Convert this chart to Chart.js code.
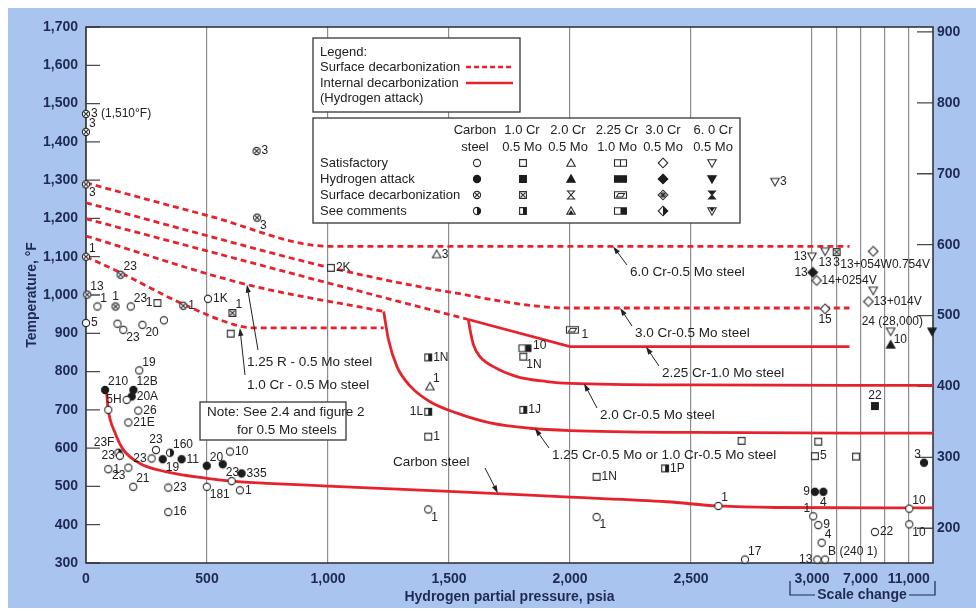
<!DOCTYPE html>
<html>
<head>
<meta charset="utf-8">
<script src="https://cdn.jsdelivr.net/npm/chart.js@4.4.1/dist/chart.umd.min.js"></script>
<style>
  html, body { margin: 0; padding: 0; background: #fff; }
  canvas { display: block; }
</style>
</head>
<body>
<canvas id="nelson" width="976" height="611"></canvas>
<script>
// hydrogen partial pressure (psia) and temperature (degF)

// axis ticks
const xTickPsia = [0, 500, 1000, 1500, 2000, 2500, 3000, 5000, 7000, 9000, 11000];
const xTickLabels = ['0', '500', '1,000', '1,500', '2,000', '2,500', '3,000', '', '7,000', '', '11,000'];
const yTicksF = [300, 400, 500, 600, 700, 800, 900, 1000, 1100, 1200, 1300, 1400, 1500, 1600, 1700];
const yTicksC = [200, 300, 400, 500, 600, 700, 800, 900];

// internal decarburization (solid) curves
const csCurveP = [85, 92, 120, 154, 223, 333, 500, 600, 750, 1000, 1500, 2000, 2400, 2610, 2850, 13000];
const csCurveT = [745, 700, 640, 596, 560, 538, 521, 514, 508, 501, 487, 472, 460, 449, 445, 444];
const cr125P = [1230, 1250, 1285, 1340, 1420, 1530, 1670, 1835, 2000, 2500, 13000];
const cr125T = [957, 883, 813, 762, 722, 692, 666, 652, 646, 641, 639];
const cr20P = [1580, 1587, 1601, 1628, 1683, 1780, 1904, 2000, 2500, 13000];
const cr20T = [936, 909, 870, 839, 813, 787, 774, 769, 765, 764];
const cr225P = [1580, 2000, 6100];
const cr225T = [936, 865, 865];

// surface decarburization (dashed) curves
const d6P = [0, 500, 1011, 6100];
const d6T = [1293, 1208, 1127, 1127];
const d3P = [0, 500, 1011, 1500, 2000, 6100];
const d3T = [1241, 1155, 1071, 1008, 966, 966];
const d225P = [0, 1008, 1580];
const d225T = [1199, 1030, 936];
const d125P = [0, 667, 1230];
const d125T = [1154, 1027, 957];
const d10P = [0, 143, 405, 639, 700, 1230];
const d10T = [1100, 1058, 975, 918, 914, 914];

// operating points [psia, degF, reference]
const csSat = [[47, 970, '1'], [185, 970, '23'], [0, 927, '5'], [130, 925, ''], [154, 909, '23'], [233, 922, '20'],
  [322, 934, ''], [504, 990, '1K'], [220, 803, '19'], [168, 726, '5H'], [216, 698, '26'], [175, 667, '21E'],
  [92, 700, ''], [140, 580, '23'], [92, 545, '1'], [175, 549, '23'], [195, 499, '21'], [271, 573, '23'],
  [289, 595, '23'], [595, 591, '10'], [499, 499, '181'], [602, 514, ''], [636, 490, '1'], [340, 497, '23'],
  [340, 433, '16'], [1414, 440, '1'], [2110, 420, '1'], [2613, 449, '1'], [2723, 309, '17'], [3100, 422, '1'],
  [3520, 399, '9'], [3800, 353, '4'], [3440, 309, '13'], [4080, 309, 'B (240 1)'], [8200, 381, '22'],
  [11040, 442, '10'], [11040, 401, '10']];
const csHyd = [[79, 752, '210'], [196, 752, '12B'], [189, 735, '20A'], [317, 571, '19'], [395, 571, '11'],
  [499, 554, '20'], [565, 558, '23'], [643, 534, '335'], [3240, 486, '9'], [3940, 486, '4'], [12260, 562, '3']];
const csDec = [[0, 1473, '3 (1,510°F)'], [0, 1426, '3'], [0, 1289, '3'], [0, 1100, '1'], [143, 1053, '23'],
  [5, 1001, '13'], [122, 970, '1'], [402, 972, '1'], [705, 1376, '3'], [707, 1202, '3']];
const csCom = [[347, 588, '160'], [134, 588, '23F']];
const crSat = [[295, 979, '1'], [598, 899, ''], [1012, 1071, '2K'], [1414, 630, '1'], [1807, 839, '1N'],
  [2110, 525, '1N'], [2709, 619, ''], [3520, 617, ''], [3240, 579, '5'], [6640, 578, '']];
const crHyd = [[8200, 710, '22']];
const crDec = [[605, 953, '1'], [5040, 1112, '3']];
const crCom = [[1414, 837, '1N'], [1414, 695, '1L'], [1807, 700, '1J'], [2393, 547, '1P']];
const trSat = [[1449, 1106, '3'], [1421, 761, '1']];
const trHyd = [[9500, 870, '']];
const wrCom = [[1814, 861, '10']];
const wrDec = [[2010, 909, '1']];
const dmSat = [[3380, 1038, '14+0254V'], [4080, 964, '15'], [7660, 983, '13+014V'], [8060, 1114, '13+054W0.754V']];
const dmHyd = [[3060, 1059, '13']];
const dtSat = [[2847, 1296, '3'], [3000, 1101, '13'], [4080, 1114, '13'], [8060, 1012, ''], [9500, 905, '10']];
const dtHyd = [[12920, 905, '24 (28,000)']];

// where each reference number sits next to its point
const csSatPos = ['ar', 'ar', 'r', '', 'br', 'br', '', 'r', 'ar', 'l', 'r', 'r', '', 'l', 'r', 'bl', 'ar', 'l',
  'a', 'r', 'br', '', 'r', 'r', 'r', 'br', 'br', 'ar', 'ar', 'al', 'r', 'ar', 'l', 'ar', 'r', 'ar', 'br'];
const csHydPos = ['ar', 'ar', 'r', 'br', 'r', 'ar', 'br', 'r', 'l', 'b', 'al'];
const csDecPos = ['r', 'ar', 'br', 'ar', 'ar', 'ar', 'a', 'r', 'r', 'br'];
const csComPos = ['ar', [-4, -10, 'right']];
const crSatPos = ['l', '', 'r', 'r', 'br', 'r', '', '', 'r', ''];
const crHydPos = ['a'];
const crDecPos = ['ar', 'b'];
const crComPos = ['r', 'l', 'r', 'r'];
const trSatPos = ['r', 'ar'];
const wrComPos = [[8, -3]];
const wrDecPos = [[9, 5]];
const dmSatPos = ['r', 'b', 'r', [-33, 13]];
const dmHydPos = ['l'];
const dtSatPos = ['r', 'l', 'b', '', 'br'];
const dtHydPos = [[-9, -10, 'right']];

const navy = '#1e2a52';
const red = '#e6232d';
const FONT = "'Liberation Sans', Arial, sans-serif";

// pressure axis: linear to 3,000 psia, then compressed 20:1
const u = p => p <= 3000 ? p : 3000 + (p - 3000) / 20;

function markerImg(shape, kind) {
  const w = shape === 'wide' ? 15 : 12, h = 12;
  const cv = document.createElement('canvas');
  cv.width = w; cv.height = h;
  const g = cv.getContext('2d');
  const ink = '#1c1c1c';
  g.translate(w / 2, h / 2);
  g.lineWidth = 1.1;
  g.strokeStyle = '#2b2b2b';
  g.fillStyle = '#fff';
  const path = () => {
    g.beginPath();
    if (shape === 'circle') g.arc(0, 0, 3.6, 0, Math.PI * 2);
    else if (shape === 'square') g.rect(-3.4, -3.4, 6.8, 6.8);
    else if (shape === 'tri') { g.moveTo(0, -4.2); g.lineTo(4.2, 3.2); g.lineTo(-4.2, 3.2); g.closePath(); }
    else if (shape === 'wide') g.rect(-6, -3.2, 12, 6.4);
    else if (shape === 'diamond') { g.moveTo(0, -4.8); g.lineTo(4.8, 0); g.lineTo(0, 4.8); g.lineTo(-4.8, 0); g.closePath(); }
    else { g.moveTo(-4.2, -3.2); g.lineTo(4.2, -3.2); g.lineTo(0, 4.2); g.closePath(); }
  };
  if (kind === 1) {
    path(); g.fillStyle = ink; g.fill(); g.strokeStyle = ink; g.stroke();
    return cv;
  }
  if (kind === 2 && (shape === 'tri' || shape === 'dtri')) {
    g.beginPath();
    g.moveTo(-3.5, -4); g.lineTo(3.5, -4); g.lineTo(-3.5, 4); g.lineTo(3.5, 4); g.closePath();
    if (shape === 'dtri') { g.fillStyle = ink; g.fill(); }
    g.stroke();
    return cv;
  }
  path(); g.fill(); g.stroke();
  g.fillStyle = ink;
  if (kind === 0 && shape === 'wide') {
    g.beginPath(); g.moveTo(0, -3.2); g.lineTo(0, 3.2); g.stroke();
  }
  if (kind === 2) {
    g.beginPath();
    if (shape === 'wide') {
      g.moveTo(-4, 2); g.lineTo(-2, -1.5); g.lineTo(4, -1.5); g.lineTo(2, 2); g.closePath();
    } else if (shape === 'diamond') {
      for (let a = 0; a < 4; a++) {
        const t = a * Math.PI / 4;
        g.moveTo(-3 * Math.cos(t), -3 * Math.sin(t)); g.lineTo(3 * Math.cos(t), 3 * Math.sin(t));
      }
    } else {
      g.moveTo(-2.4, -2.4); g.lineTo(2.4, 2.4); g.moveTo(2.4, -2.4); g.lineTo(-2.4, 2.4);
    }
    g.stroke();
  }
  if (kind === 3) {
    g.beginPath();
    if (shape === 'circle') { g.arc(0, 0, 3.6, -Math.PI / 2, Math.PI / 2); g.closePath(); }
    else if (shape === 'square') g.rect(0, -3.4, 3.4, 6.8);
    else if (shape === 'tri') { g.moveTo(0, -1); g.lineTo(2.6, 3.2); g.lineTo(-2.6, 3.2); g.closePath(); }
    else if (shape === 'wide') { g.rect(0, -3.2, 6, 6.4); }
    else if (shape === 'diamond') { g.moveTo(0, -4.8); g.lineTo(4.8, 0); g.lineTo(0, 4.8); g.closePath(); }
    else { g.moveTo(-2.6, -3.2); g.lineTo(2.6, -3.2); g.lineTo(0, 1); g.closePath(); }
    g.fill();
  }
  return cv;
}

const curve = (P, T, dashed, smooth) => ({
  data: P.map((p, i) => ({ x: u(p), y: T[i] })),
  showLine: true, pointRadius: 0, pointHoverRadius: 0,
  borderColor: red, borderWidth: 2.8, borderDash: dashed ? [6, 4] : [], borderCapStyle: 'butt',
  cubicInterpolationMode: smooth ? 'monotone' : 'default', tension: smooth ? 0.4 : 0,
  order: 2
});

const marks = (rows, pos, shape, kind) => ({
  data: rows.map(r => ({ x: u(r[0]), y: r[1] })),
  tags: rows.map(r => r[2]), tagPos: pos,
  pointStyle: markerImg(shape, kind), pointRadius: 5, pointHoverRadius: 5,
  showLine: false, clip: false, order: 1
});

const OFF = { r: [5, 0, 'left'], l: [-5, 0, 'right'], a: [0, -10, 'center'], b: [0, 11, 'center'],
  ar: [3, -8, 'left'], br: [3, 8, 'left'], al: [-3, -8, 'right'], bl: [-3, 8, 'right'] };

const notes = [
  { text: '6.0 Cr-0.5 Mo steel', x: 630, y: 272, from: [627, 265], tip: [2178, 1127] },
  { text: '3.0 Cr-0.5 Mo steel', x: 635, y: 333, from: [632, 326], tip: [2207, 966] },
  { text: '2.25 Cr-1.0 Mo steel', x: 662, y: 373, from: [659, 366], tip: [2314, 865] },
  { text: '2.0 Cr-0.5 Mo steel', x: 600, y: 415, from: [597, 408], tip: [2058, 769] },
  { text: '1.25 Cr-0.5 Mo or 1.0 Cr-0.5 Mo steel', x: 552, y: 455, from: [549, 448], tip: [1855, 652] },
  { text: 'Carbon steel', x: 393, y: 462, from: [485, 468], tip: [1702, 482] },
  { text: '1.25 R - 0.5 Mo steel', x: 247, y: 362, from: [258, 350], tip: [665, 1027] },
  { text: '1.0 Cr - 0.5 Mo steel', x: 247, y: 385, from: [245, 375], tip: [636, 914] }
];

function arrow(ctx, x1, y1, x2, y2) {
  const a = Math.atan2(y2 - y1, x2 - x1);
  ctx.beginPath(); ctx.moveTo(x1, y1); ctx.lineTo(x2 - 5 * Math.cos(a), y2 - 5 * Math.sin(a)); ctx.stroke();
  ctx.beginPath();
  ctx.moveTo(x2, y2);
  ctx.lineTo(x2 - 8 * Math.cos(a) + 2.6 * Math.sin(a), y2 - 8 * Math.sin(a) - 2.6 * Math.cos(a));
  ctx.lineTo(x2 - 8 * Math.cos(a) - 2.6 * Math.sin(a), y2 - 8 * Math.sin(a) + 2.6 * Math.cos(a));
  ctx.closePath(); ctx.fill();
}

const backdrop = {
  id: 'backdrop',
  beforeDraw(c) {
    const { ctx, chartArea: a } = c;
    ctx.save();
    ctx.fillStyle = '#fff';
    ctx.fillRect(0, 0, c.width, c.height);
    ctx.fillStyle = '#a9c4ef';
    ctx.fillRect(8, 8, c.width - 8, 600);
    ctx.fillStyle = '#fff';
    ctx.fillRect(a.left, a.top, a.right - a.left, a.bottom - a.top);
    ctx.restore();
  },
  beforeDatasetsDraw(c) {
    const { ctx, chartArea: a, scales } = c;
    ctx.save();
    ctx.strokeStyle = '#4a4a4a';
    ctx.lineWidth = 1.3;
    ctx.beginPath();
    yTicksF.forEach(v => { const y = scales.y.getPixelForValue(v); ctx.moveTo(a.left, y); ctx.lineTo(a.left + 14, y); });
    yTicksC.forEach(v => { const y = scales.y2.getPixelForValue(v); ctx.moveTo(a.right - 16, y); ctx.lineTo(a.right, y); });
    ctx.stroke();
    ctx.strokeStyle = '#35353d';
    ctx.lineWidth = 1.6;
    ctx.strokeRect(a.left, a.top, a.right - a.left, a.bottom - a.top);
    ctx.restore();
  }
};

const overlay = {
  id: 'overlay',
  afterDatasetsDraw(c) {
    const { ctx, scales } = c;
    ctx.save();
    // point references
    ctx.fillStyle = '#222';
    ctx.font = '12px ' + FONT;
    ctx.textBaseline = 'middle';
    c.data.datasets.forEach((ds, di) => {
      if (!ds.tags) return;
      const meta = c.getDatasetMeta(di);
      ds.tags.forEach((t, i) => {
        if (!t) return;
        const pt = meta.data[i];
        let o = ds.tagPos[i];
        if (typeof o === 'string') o = OFF[o] || OFF.r;
        ctx.textAlign = o[2] || 'left';
        ctx.fillText(t, pt.x + o[0], pt.y + o[1]);
      });
    });

    // curve names with arrows
    ctx.font = '13.5px ' + FONT;
    ctx.textAlign = 'left';
    ctx.strokeStyle = '#222';
    ctx.lineWidth = 1;
    notes.forEach(n => {
      ctx.fillText(n.text, n.x, n.y);
      arrow(ctx, n.from[0], n.from[1], scales.x.getPixelForValue(u(n.tip[0])), scales.y.getPixelForValue(n.tip[1]));
    });

    // note box
    ctx.fillStyle = '#fff';
    ctx.fillRect(200, 402, 146, 38);
    ctx.strokeStyle = '#444';
    ctx.lineWidth = 1.4;
    ctx.strokeRect(200, 402, 146, 38);
    ctx.fillStyle = '#222';
    ctx.fillText('Note: See 2.4 and figure 2', 207, 412);
    ctx.fillText('for 0.5 Mo steels', 237, 430);

    // legend: line styles
    ctx.fillStyle = '#fff';
    ctx.fillRect(313, 38, 207, 74);
    ctx.strokeRect(313, 38, 207, 74);
    ctx.fillStyle = '#222';
    ctx.font = '13px ' + FONT;
    ctx.fillText('Legend:', 320, 52);
    ctx.fillText('Surface decarbonization', 320, 67);
    ctx.fillText('Internal decarbonization', 320, 83);
    ctx.fillText('(Hydrogen attack)', 320, 98);
    ctx.strokeStyle = red;
    ctx.lineWidth = 2.4;
    ctx.setLineDash([5, 3]);
    ctx.beginPath(); ctx.moveTo(466, 67); ctx.lineTo(513, 67); ctx.stroke();
    ctx.setLineDash([]);
    ctx.beginPath(); ctx.moveTo(466, 83); ctx.lineTo(513, 83); ctx.stroke();

    // legend: marker table
    ctx.fillStyle = '#fff';
    ctx.strokeStyle = '#444';
    ctx.lineWidth = 1.4;
    ctx.fillRect(313, 118, 427, 105);
    ctx.strokeRect(313, 118, 427, 105);
    ctx.fillStyle = '#222';
    const heads = [['Carbon', 'steel'], ['1.0 Cr', '0.5 Mo'], ['2.0 Cr', '0.5 Mo'], ['2.25 Cr', '1.0 Mo'], ['3.0 Cr', '0.5 Mo'], ['6. 0 Cr', '0.5 Mo']];
    const headX = [475, 522, 568, 617, 663, 713];
    const symX = [477, 523, 571, 620, 663, 712];
    const shapes = ['circle', 'square', 'tri', 'wide', 'diamond', 'dtri'];
    ctx.textAlign = 'center';
    heads.forEach((h, i) => { ctx.fillText(h[0], headX[i], 130); ctx.fillText(h[1], headX[i], 147); });
    ctx.textAlign = 'left';
    ['Satisfactory', 'Hydrogen attack', 'Surface decarbonization', 'See comments'].forEach((r, k) => {
      const y = 163 + k * 16;
      ctx.fillText(r, 320, y);
      shapes.forEach((s, i) => {
        const img = markerImg(s, k);
        ctx.drawImage(img, Math.round(symX[i] - img.width / 2), Math.round(y - img.height / 2));
      });
    });

    ctx.restore();
  },
  afterDraw(c) {
    const { ctx, chartArea: a } = c;
    ctx.save();
    ctx.fillStyle = navy;
    ctx.strokeStyle = navy;
    ctx.font = 'bold 14px ' + FONT;
    ctx.textAlign = 'center';
    ctx.textBaseline = 'middle';
    ctx.fillText('Hydrogen partial pressure, psia', (a.left + a.right) / 2, 597);
    ctx.fillText('Scale change', 862, 595);
    ctx.lineWidth = 1.2;
    ctx.beginPath();
    ctx.moveTo(790, 581); ctx.lineTo(790, 595); ctx.lineTo(815, 595);
    ctx.moveTo(909, 595); ctx.lineTo(935, 595); ctx.lineTo(935, 581);
    ctx.stroke();
    ctx.translate(32, (a.top + a.bottom) / 2);
    ctx.rotate(-Math.PI / 2);
    ctx.fillText('Temperature, °F', 0, 0);
    ctx.restore();
  }
};

const tickFont = { family: FONT, size: 14, weight: 'bold' };

new Chart(document.getElementById('nelson').getContext('2d'), {
  type: 'scatter',
  data: {
    datasets: [
      marks(csSat, csSatPos, 'circle', 0),
      marks(csHyd, csHydPos, 'circle', 1),
      marks(csDec, csDecPos, 'circle', 2),
      marks(csCom, csComPos, 'circle', 3),
      marks(crSat, crSatPos, 'square', 0),
      marks(crHyd, crHydPos, 'square', 1),
      marks(crDec, crDecPos, 'square', 2),
      marks(crCom, crComPos, 'square', 3),
      marks(trSat, trSatPos, 'tri', 0),
      marks(trHyd, [''], 'tri', 1),
      marks(wrCom, wrComPos, 'wide', 3),
      marks(wrDec, wrDecPos, 'wide', 2),
      marks(dmSat, dmSatPos, 'diamond', 0),
      marks(dmHyd, dmHydPos, 'diamond', 1),
      marks(dtSat, dtSatPos, 'dtri', 0),
      marks(dtHyd, dtHydPos, 'dtri', 1),
      curve(csCurveP, csCurveT, false, true),
      curve(cr125P, cr125T, false, true),
      curve(cr20P, cr20T, false, true),
      curve(cr225P, cr225T, false, false),
      curve(d6P, d6T, true, true),
      curve(d3P, d3T, true, true),
      curve(d225P, d225T, true, false),
      curve(d125P, d125T, true, true),
      curve(d10P, d10T, true, true)
    ]
  },
  options: {
    responsive: false,
    animation: false,
    layout: { padding: { top: 27, left: 0, right: 0, bottom: 0 } },
    plugins: { legend: { display: false }, tooltip: { enabled: false } },
    events: [],
    scales: {
      x: {
        type: 'linear', min: 0, max: 3500,
        afterBuildTicks: s => { s.ticks = xTickPsia.map(p => ({ value: u(p) })); },
        afterFit: s => { s.height = 48; },
        ticks: { callback: (v, i) => xTickLabels[i], color: navy, font: tickFont, padding: 8, maxRotation: 0, autoSkip: false },
        grid: { color: '#8e8e8e', lineWidth: 1.2, drawTicks: false },
        border: { display: false }
      },
      y: {
        type: 'linear', min: 300, max: 1700,
        afterBuildTicks: s => { s.ticks = yTicksF.map(v => ({ value: v })); },
        afterFit: s => { s.width = 86; },
        ticks: { callback: v => v.toLocaleString('en-US'), color: navy, font: tickFont, padding: 8, autoSkip: false },
        grid: { display: false, drawTicks: false },
        border: { display: false }
      },
      y2: {
        type: 'linear', position: 'right', min: 151, max: 907,
        afterBuildTicks: s => { s.ticks = yTicksC.map(v => ({ value: v })); },
        afterFit: s => { s.width = 43; },
        ticks: { color: navy, font: tickFont, padding: 4, autoSkip: false },
        grid: { display: false, drawTicks: false },
        border: { display: false }
      }
    }
  },
  plugins: [backdrop, overlay]
});
</script>
</body>
</html>
